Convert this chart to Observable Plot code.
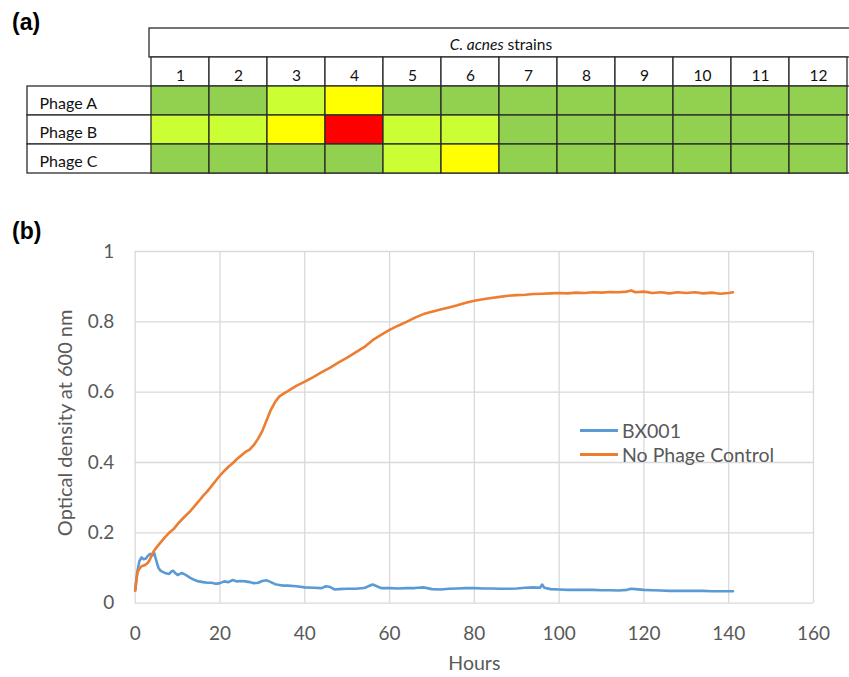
<!DOCTYPE html>
<html><head><meta charset="utf-8">
<script src="https://cdn.jsdelivr.net/npm/d3@7"></script>
<script src="https://cdn.jsdelivr.net/npm/@observablehq/plot@0.6"></script>
<style>
body{margin:0;background:#fff;}
#wrap{position:relative;width:849px;height:677px;overflow:hidden;background:#fff;font-family:Lato,sans-serif;}
.panel-label{position:absolute;font-family:"Liberation Sans",Arial,sans-serif;font-weight:bold;font-size:23px;color:#000;line-height:26px;}
#tableA{position:absolute;left:0;top:0;}
#chartB{position:absolute;left:0;top:220px;}
#legend{position:absolute;left:580px;top:418.7px;font-family:Lato,sans-serif;font-size:19.5px;color:#595959;}
.li{display:flex;align-items:center;height:24px;white-space:nowrap;}
.sw{width:38px;height:2.6px;margin-right:4px;}
</style></head>
<body><div id="wrap">
 <div class="panel-label" style="left:12px;top:9px">(a)</div>
 <div class="panel-label" style="left:12px;top:218px">(b)</div>
 <div id="tableA"></div>
 <div id="chartB"></div>
 <div id="legend"></div>
</div>
<script>
// ---------- Panel (a) data ----------
const strains = ["1","2","3","4","5","6","7","8","9","10","11","12"];
const phages = ["Phage A","Phage B","Phage C"];
// susceptibility level per strain: 0 = green, 1 = light green, 2 = yellow, 3 = red
const phageA = [0,0,1,2,0,0,0,0,0,0,0,0];
const phageB = [1,1,2,3,1,1,0,0,0,0,0,0];
const phageC = [0,0,0,0,1,2,0,0,0,0,0,0];
const levels = [0,1,2,3];
const levelColors = ["#92D050","#CCFF33","#FFFF00","#FF0000"];
const tableTitle = "C. acnes strains";

// ---------- Panel (b) data ----------
const seriesNames = ["BX001","No Phage Control"];
const seriesColors = ["#5B9BD5","#ED7D31"];
const bx001 = [[0,0.036],[0.5,0.09],[1,0.12],[1.5,0.13],[2,0.125],[2.5,0.127],[3,0.135],[3.5,0.14],[4,0.135],[4.5,0.142],[5,0.12],[5.5,0.1],[6,0.092],[7,0.086],[8,0.083],[8.5,0.09],[9,0.092],[9.5,0.085],[10,0.08],[11,0.086],[12,0.08],[13,0.072],[14,0.066],[15,0.062],[16,0.06],[17,0.058],[18,0.058],[19,0.055],[20,0.057],[21,0.062],[22,0.06],[23,0.066],[24,0.062],[25,0.063],[26,0.062],[27,0.06],[28,0.057],[29,0.058],[30,0.063],[31,0.065],[32,0.06],[33,0.054],[34,0.052],[35,0.05],[36,0.05],[38,0.048],[40,0.045],[42,0.044],[44,0.043],[45,0.048],[46,0.046],[47,0.039],[48,0.04],[50,0.041],[52,0.041],[54,0.043],[55,0.048],[56,0.053],[57,0.048],[58,0.043],[60,0.043],[62,0.042],[64,0.043],[66,0.043],[68,0.045],[70,0.04],[72,0.039],[74,0.041],[76,0.042],[78,0.043],[80,0.043],[82,0.042],[84,0.042],[86,0.041],[88,0.041],[90,0.042],[92,0.044],[94,0.045],[95.5,0.044],[96,0.053],[96.5,0.044],[98,0.04],[100,0.039],[102,0.038],[104,0.038],[106,0.038],[108,0.038],[110,0.037],[112,0.037],[114,0.036],[116,0.038],[117,0.041],[118,0.04],[120,0.038],[122,0.037],[124,0.036],[126,0.035],[128,0.035],[130,0.035],[132,0.035],[134,0.035],[136,0.034],[138,0.034],[141,0.034]];
const noPhageControl = [[0,0.036],[0.3,0.07],[0.6,0.09],[1,0.098],[1.5,0.105],[2,0.107],[2.5,0.11],[3,0.115],[3.5,0.125],[4,0.14],[4.5,0.15],[5,0.158],[6,0.173],[7,0.187],[8,0.2],[9,0.21],[10,0.225],[11,0.238],[12,0.25],[13,0.262],[14,0.276],[15,0.29],[16,0.305],[17,0.318],[18,0.333],[19,0.348],[20,0.363],[21,0.376],[22,0.388],[23,0.398],[24,0.41],[25,0.42],[26,0.43],[27,0.437],[28,0.45],[29,0.468],[30,0.49],[31,0.52],[32,0.55],[33,0.572],[34,0.588],[35,0.596],[36,0.603],[38,0.618],[40,0.63],[42,0.643],[44,0.657],[46,0.67],[48,0.685],[50,0.698],[52,0.713],[54,0.728],[56,0.748],[58,0.763],[60,0.777],[62,0.789],[64,0.8],[66,0.812],[68,0.822],[70,0.829],[72,0.835],[74,0.841],[76,0.847],[78,0.854],[80,0.86],[82,0.864],[84,0.868],[86,0.871],[88,0.874],[90,0.876],[92,0.877],[94,0.879],[96,0.88],[98,0.881],[100,0.882],[102,0.881],[104,0.883],[106,0.882],[108,0.884],[110,0.883],[112,0.885],[114,0.884],[116,0.886],[117,0.889],[118,0.884],[120,0.886],[122,0.882],[124,0.884],[126,0.881],[128,0.884],[130,0.882],[132,0.884],[134,0.881],[136,0.883],[138,0.88],[140,0.882],[141,0.884]];
const xTicks = [0,20,40,60,80,100,120,140,160];
const xTickLabels = ["0","20","40","60","80","100","120","140","160"];
const yTicks = [0,0.2,0.4,0.6,0.8,1];
const yTickLabels = ["0","0.2","0.4","0.6","0.8","1"];
const xLabel = "Hours";
const yLabel = "Optical density at 600 nm";

// ---------- Build panel (a) ----------
const levelRows = [phageA, phageB, phageC];
const cells = [];
phages.forEach((p, r) => strains.forEach((s, c) => cells.push({phage: p, strain: s, level: levelRows[r][c]})));
const border = "#2b2b2b";
const bw = 1.3;
const labelColW = 149 - 27;

const table = Plot.plot({
  width: 849, height: 180,
  marginLeft: 27, marginRight: -3, marginTop: 26.7, marginBottom: 5,
  style: {fontFamily: "Lato, sans-serif", fontSize: "16px", color: "#111", background: "transparent", overflow: "visible"},
  x: {type: "band", domain: strains, range: [149, 848.5], padding: 0, axis: null},
  y: {type: "band", domain: ["title", "num", ...phages], padding: 0, axis: null},
  color: {type: "ordinal", domain: levels, range: levelColors},
  marks: [
    Plot.cell(phages, {y: d => d, fill: "white", stroke: border, strokeWidth: bw}),
    Plot.cell(["title"], {y: d => d, fill: "white", stroke: border, strokeWidth: bw, insetLeft: labelColW}),
    Plot.cell(strains, {x: d => d, y: () => "num", fill: "white", stroke: border, strokeWidth: bw}),
    Plot.cell(cells, {x: "strain", y: "phage", fill: "level", stroke: border, strokeWidth: bw}),
    Plot.text(strains, {x: d => d, y: () => "num", text: d => d, dy: 4, fontSize: 15.5, fill: "#111"}),
    Plot.text(phages, {y: d => d, frameAnchor: "left", textAnchor: "start", dx: 12, dy: 3, text: d => d, fontSize: 16, fill: "#111"}),
    Plot.text([tableTitle], {y: () => "title", frameAnchor: "middle", dx: labelColW / 2, dy: 2, text: d => d, fontSize: 15.5, fill: "#111"})
  ]
});
document.getElementById("tableA").appendChild(table);
// italicise the genus/species part of the header
d3.select(table).selectAll("text").filter(function() { return this.textContent === tableTitle; })
  .each(function() {
    const t = d3.select(this);
    t.text(null);
    t.append("tspan").attr("font-style", "italic").text("C. acnes");
    t.append("tspan").text(" strains");
  });

// ---------- Build panel (b) ----------
const toRows = (arr, name) => arr.map(([h, v]) => ({h, v, series: name}));
const rowsBX = toRows(bx001, seriesNames[0]);
const rowsCtrl = toRows(noPhageControl, seriesNames[1]);
const gridColor = "#d9d9d9";

const chart = Plot.plot({
  width: 849, height: 457,
  marginLeft: 134.7, marginRight: 36, marginTop: 31, marginBottom: 74.3,
  style: {fontFamily: "Lato, sans-serif", fontSize: "19px", color: "#595959", background: "transparent", overflow: "visible"},
  x: {domain: [0, 160], ticks: xTicks, tickFormat: d => xTickLabels[xTicks.indexOf(d)], tickSize: 0, tickPadding: 23, label: null},
  y: {domain: [0, 1], ticks: yTicks, tickFormat: d => yTickLabels[yTicks.indexOf(d)], tickSize: 0, tickPadding: 21, label: null},
  marks: [
    Plot.ruleX(xTicks, {stroke: gridColor, strokeWidth: 1.3}),
    Plot.ruleY(yTicks, {stroke: gridColor, strokeWidth: 1.3}),
    Plot.line(rowsBX, {x: "h", y: "v", stroke: seriesColors[0], strokeWidth: 2.6}),
    Plot.line(rowsCtrl, {x: "h", y: "v", stroke: seriesColors[1], strokeWidth: 2.6}),
    Plot.text([xLabel], {frameAnchor: "bottom", lineAnchor: "middle", dy: 61, text: d => d, fontSize: 19.5, fill: "#595959"}),
    Plot.text([yLabel], {frameAnchor: "left", textAnchor: "middle", lineAnchor: "middle", rotate: -90, dx: -69.5, dy: -4.5, text: d => d, fontSize: 20, fill: "#595959"})
  ]
});
document.getElementById("chartB").appendChild(chart);

// legend
const legend = d3.select("#legend");
seriesNames.forEach((n, i) => {
  const row = legend.append("div").attr("class", "li");
  row.append("div").attr("class", "sw").style("background", seriesColors[i]);
  row.append("span").text(n);
});
</script>
</body></html>
